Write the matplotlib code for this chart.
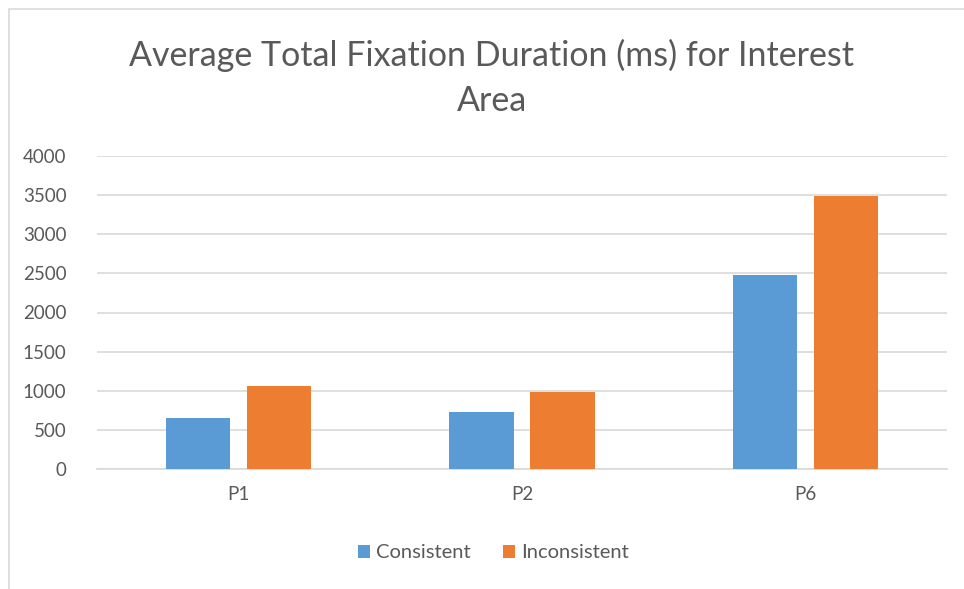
import matplotlib
matplotlib.use("Agg")
import matplotlib.pyplot as plt
import numpy as np
from matplotlib.patches import Rectangle

categories = ["P1", "P2", "P6"]
consistent = [655, 725, 2480]
inconsistent = [1065, 985, 3490]
series_names = ["Consistent", "Inconsistent"]
colors = ["#5B9BD5", "#ED7D31"]

plt.rcParams['font.family'] = ['Lato', 'DejaVu Sans']

fig = plt.figure(figsize=(9.64, 5.89), dpi=100)
ax = fig.add_axes([97/964, 1 - 469/589, (947 - 97)/964, (469 - 156)/589])

x = np.arange(len(categories))
w = 0.228
off = 0.143
ax.bar(x - off, consistent, w, color=colors[0], label=series_names[0], zorder=3)
ax.bar(x + off, inconsistent, w, color=colors[1], label=series_names[1], zorder=3)

ax.set_xlim(-0.5, 2.5)
ax.set_ylim(0, 4000)
ax.set_yticks(np.arange(0, 4001, 500))
ax.set_xticks(x)
ax.set_xticklabels(categories)
ax.yaxis.grid(True, color="#d9d9d9", linewidth=1.2, zorder=0)
for s in ["top", "right", "left"]:
    ax.spines[s].set_visible(False)
ax.spines["bottom"].set_color("#d9d9d9")
ax.spines["bottom"].set_linewidth(1.2)
ax.tick_params(axis="both", length=0, labelsize=13.5, colors="#595959")
ax.tick_params(axis="y", pad=22)
ax.tick_params(axis="x", pad=12)

fig.text(0.51, 1 - 55/589, "Average Total Fixation Duration (ms) for Interest", ha="center",
         va="center", fontsize=24.5, color="#595959")
fig.text(0.51, 1 - 101/589, "Area", ha="center", va="center", fontsize=24.5, color="#595959")

leg = fig.legend(loc="center", bbox_to_anchor=(0.512, 1 - 553/589), ncol=2, frameon=False,
                 fontsize=14.5, handlelength=0.6, handleheight=0.6, handletextpad=0.3,
                 columnspacing=1.6)
for t in leg.get_texts():
    t.set_color("#595959")

fig.patches.append(Rectangle((9/964, -0.01), 1.0, 1 - 9/589 + 0.01, transform=fig.transFigure,
                             fill=False, edgecolor="#d9d9d9", linewidth=1.2))

fig.savefig("out.png", dpi=100, facecolor="white")
